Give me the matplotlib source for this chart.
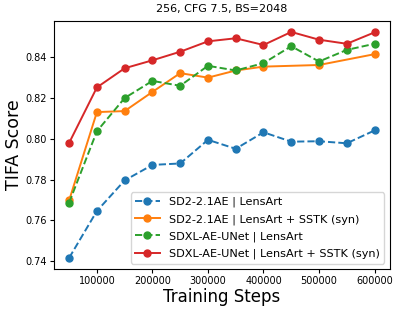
import matplotlib
matplotlib.use("Agg")
import matplotlib.pyplot as plt

steps_all = [50000, 100000, 150000, 200000, 250000, 300000, 350000, 400000, 450000, 500000, 550000, 600000]
steps_orange = [50000, 100000, 150000, 200000, 250000, 300000, 350000, 400000, 500000, 600000]

sd2_lensart = [0.7416, 0.7646, 0.7796, 0.7872, 0.7879, 0.7995, 0.7951, 0.8032, 0.7986, 0.7988, 0.7978, 0.8041]
sd2_sstk = [0.7698, 0.8131, 0.8136, 0.8230, 0.8322, 0.8300, 0.8335, 0.8354, 0.8362, 0.8415]
sdxl_lensart = [0.7687, 0.8037, 0.8200, 0.8284, 0.8260, 0.8358, 0.8335, 0.8371, 0.8454, 0.8379, 0.8436, 0.8466]
sdxl_sstk = [0.7980, 0.8252, 0.8346, 0.8385, 0.8427, 0.8478, 0.8493, 0.8460, 0.8524, 0.8486, 0.8466, 0.8522]

labels = ["SD2-2.1AE | LensArt", "SD2-2.1AE | LensArt + SSTK (syn)",
          "SDXL-AE-UNet | LensArt", "SDXL-AE-UNet | LensArt + SSTK (syn)"]

fig = plt.figure(figsize=(3.99, 3.13), dpi=100)
ax = fig.add_axes([0.135, 0.14, 0.842, 0.794])
ms = 5
lw = 1.4
ax.plot(steps_all, sd2_lensart, "o--", color="#1f77b4", ms=ms, lw=lw, label=labels[0])
ax.plot(steps_orange, sd2_sstk, "o-", color="#ff7f0e", ms=ms, lw=lw, label=labels[1])
ax.plot(steps_all, sdxl_lensart, "o--", color="#2ca02c", ms=ms, lw=lw, label=labels[2])
ax.plot(steps_all, sdxl_sstk, "o-", color="#d62728", ms=ms, lw=lw, label=labels[3])

ax.set_title("256, CFG 7.5, BS=2048", fontsize=8)
ax.set_xlabel("Training Steps", fontsize=12, labelpad=1)
ax.set_ylabel("TIFA Score", fontsize=12.5, labelpad=2)
ax.tick_params(labelsize=7, length=3, pad=2)
ax.set_yticks([0.74, 0.76, 0.78, 0.80, 0.82, 0.84])
ax.set_xticks([100000, 200000, 300000, 400000, 500000, 600000])
ax.legend(loc="lower right", fontsize=8.1, borderpad=0.4, labelspacing=0.6, handlelength=2.2)

fig.savefig("out.png", dpi=100)
